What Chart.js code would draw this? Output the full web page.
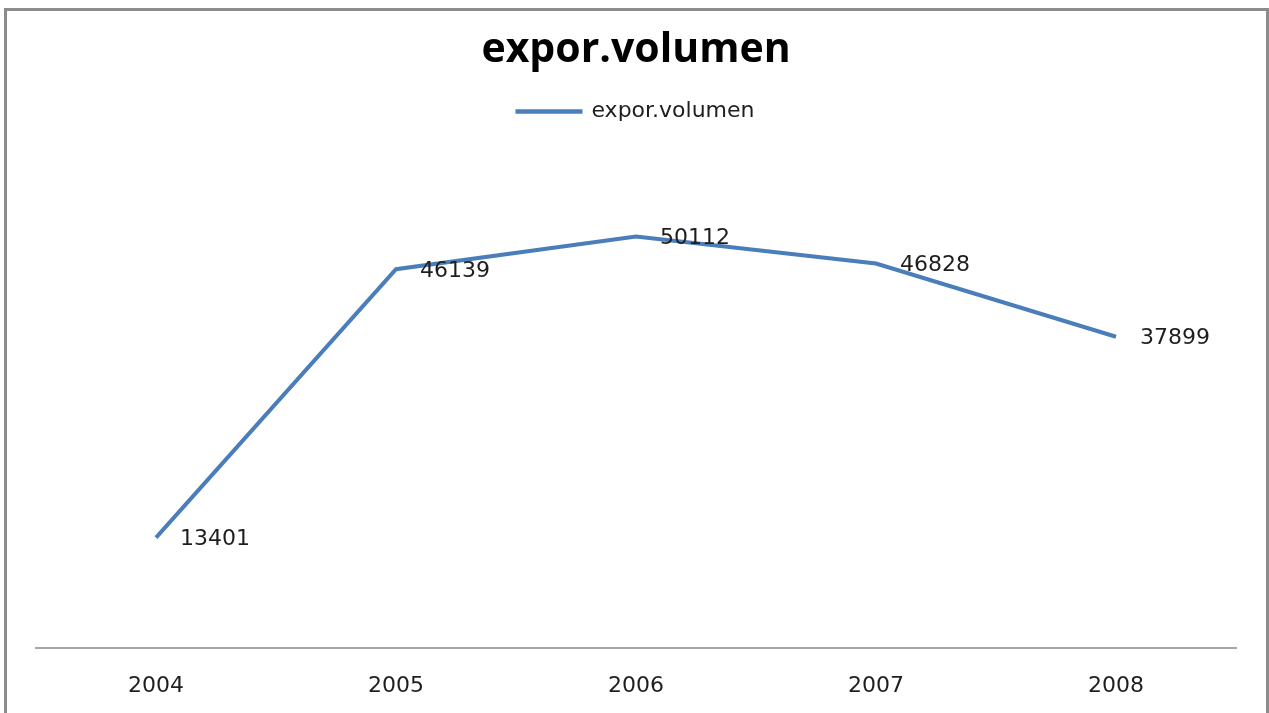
<!DOCTYPE html>
<html>
<head>
<meta charset="utf-8">
<script src="https://cdn.jsdelivr.net/npm/chart.js@4"></script>
<style>
  html, body { margin: 0; padding: 0; background: #fff; overflow: hidden; }
  #frame { position: absolute; left: 4px; top: 8px; width: 1259px; height: 760px; border: 3px solid #8c8c8c; }
  #wrap { position: absolute; left: 0; top: 0; width: 1269px; height: 724px; }
</style>
</head>
<body>
<div id="frame"></div>
<div id="wrap"><canvas id="graph-expor" width="1269" height="724"></canvas></div>
<script>
const years = ['2004', '2005', '2006', '2007', '2008'];
const exporVolumen = [13401, 46139, 50112, 46828, 37899];
const seriesName = 'expor.volumen';

(function(){
  const lineColor = '#4a7ebb';

  // value labels to the right of each point, like the spreadsheet original
  const pointLabels = {
    id: 'pointLabels',
    afterDatasetsDraw(chart) {
      const ctx = chart.ctx;
      const meta = chart.getDatasetMeta(0);
      ctx.save();
      ctx.font = '22px "DejaVu Sans"';
      ctx.fillStyle = '#1e1e1e';
      ctx.textAlign = 'left';
      ctx.textBaseline = 'middle';
      meta.data.forEach((pt, i) => {
        ctx.fillText(String(chart.data.datasets[0].data[i]), pt.x + 24, pt.y + 2);
      });
      ctx.restore();
    }
  };

  const ctx = document.getElementById('graph-expor');
  new Chart(ctx, {
    type: 'line',
    data: {
      labels: years,
      datasets: [{
        label: seriesName,
        data: exporVolumen,
        borderColor: lineColor,
        backgroundColor: lineColor,
        borderWidth: 4,
        pointRadius: 0,
        tension: 0
      }]
    },
    plugins: [pointLabels],
    options: {
      responsive: false,
      animation: false,
      devicePixelRatio: 1,
      layout: {
        padding: { top: 0, left: 36, right: 33, bottom: 0 }
      },
      scales: {
        x: {
          offset: true,
          grid: { display: false, drawTicks: false },
          border: { display: true, color: '#a6a6a6', width: 2 },
          ticks: {
            color: '#1e1e1e',
            padding: 25,
            font: { family: '"DejaVu Sans"', size: 22 }
          }
        },
        y: {
          display: false,
          min: 0,
          max: 62800
        }
      },
      plugins: {
        title: {
          display: true,
          text: seriesName,
          color: '#000',
          padding: { top: 29.5, bottom: 20 },
          font: { family: '"Open Sans"', size: 41, weight: 'bold', lineHeight: 1 }
        },
        legend: {
          display: true,
          labels: {
            color: '#1e1e1e',
            boxWidth: 63,
            boxHeight: 0.5,
            padding: 10,
            font: { family: '"DejaVu Sans"', size: 22 }
          }
        },
        tooltip: { enabled: false }
      }
    }
  });
})();
</script>
</body>
</html>
